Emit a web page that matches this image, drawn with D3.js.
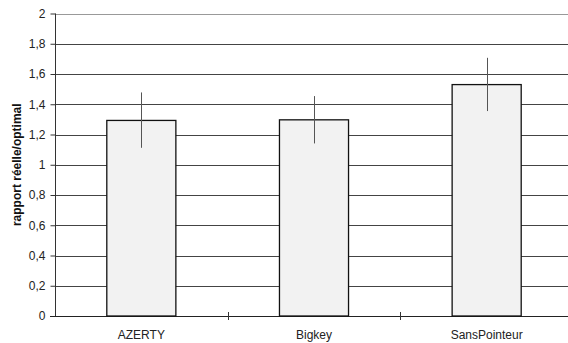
<!DOCTYPE html>
<html><head><meta charset="utf-8">
<script src="https://cdn.jsdelivr.net/npm/d3@7"></script>
<style>body{margin:0;background:#fff}</style>
</head><body><svg id="c" width="568" height="343"></svg>
<script>
const categories = ["AZERTY", "Bigkey", "SansPointeur"];
const values = [1.293, 1.297, 1.53];
const errUpper = [1.478, 1.454, 1.707];
const errLower = [1.112, 1.141, 1.355];
const yTicks = [0, 0.2, 0.4, 0.6, 0.8, 1, 1.2, 1.4, 1.6, 1.8, 2];
const yLabel = "rapport réelle/optimal";

(function () {
const svg = d3.select("#c");
const mLeft = 55, mRight = 573, mTop = 13.5, mBottom = 316;
const x = d3.scaleBand().domain(categories).range([mLeft, mRight]);
const y = d3.scaleLinear().domain([0, 2]).range([mBottom, mTop]);
const fmt = d => String(d).replace(".", ",");
const font = "Liberation Sans, Arial, sans-serif";

// gridlines
svg.append("g").selectAll("line").data(yTicks.filter(d => d > 0)).join("line")
  .attr("x1", mLeft).attr("x2", mRight).attr("y1", d => Math.round(y(d)) + 0.5).attr("y2", d => Math.round(y(d)) + 0.5)
  .attr("stroke", d => d === 2 ? "#999" : "#444").attr("stroke-width", 1);

// y axis
const ya = svg.append("g").attr("transform", `translate(${mLeft + 0.5},0)`)
  .call(d3.axisLeft(y).tickValues(yTicks).tickFormat(fmt).tickSize(5).tickPadding(5));
ya.selectAll("path,line").attr("stroke", "#333").attr("stroke-width", 1);
ya.select(".domain").attr("d", `M0,${y(2)}V${mBottom}`);
ya.selectAll("text").attr("font-family", font).attr("font-size", 12).attr("fill", "#222");

// x axis
svg.append("line").attr("x1", mLeft - 5).attr("x2", mRight).attr("y1", mBottom + 0.5).attr("y2", mBottom + 0.5).attr("stroke", "#222");
svg.append("g").selectAll("line").data(categories.slice(1)).join("line")
  .attr("x1", d => Math.round(x(d)) + 0.5).attr("x2", d => Math.round(x(d)) + 0.5)
  .attr("y1", mBottom - 4).attr("y2", mBottom + 4).attr("stroke", "#333");
svg.append("g").selectAll("text").data(categories).join("text")
  .attr("x", d => x(d) + x.bandwidth() / 2).attr("y", 339)
  .attr("text-anchor", "middle").attr("font-family", font).attr("font-size", 12).attr("fill", "#222")
  .text(d => d);

// bars
const bw = x.bandwidth() * 0.4;
svg.append("g").selectAll("rect").data(categories).join("rect")
  .attr("x", (d) => x(d) + x.bandwidth() / 2 - bw / 2)
  .attr("y", (d, i) => y(values[i]))
  .attr("width", bw)
  .attr("height", (d, i) => mBottom - y(values[i]))
  .attr("fill", "#f2f2f2").attr("stroke", "#111").attr("stroke-width", 1.3);

// error bars
svg.append("g").selectAll("line").data(categories).join("line")
  .attr("x1", d => Math.round(x(d) + x.bandwidth() / 2) + 0.5)
  .attr("x2", d => Math.round(x(d) + x.bandwidth() / 2) + 0.5)
  .attr("y1", (d, i) => y(errUpper[i])).attr("y2", (d, i) => y(errLower[i]))
  .attr("stroke", "#555").attr("stroke-width", 1);

// y label
svg.append("text").attr("transform", `translate(21,${(mTop + mBottom) / 2}) rotate(-90)`)
  .attr("text-anchor", "middle").attr("font-family", font).attr("font-size", 12)
  .attr("font-weight", "bold").attr("fill", "#111").text(yLabel);
})();
</script></body></html>
